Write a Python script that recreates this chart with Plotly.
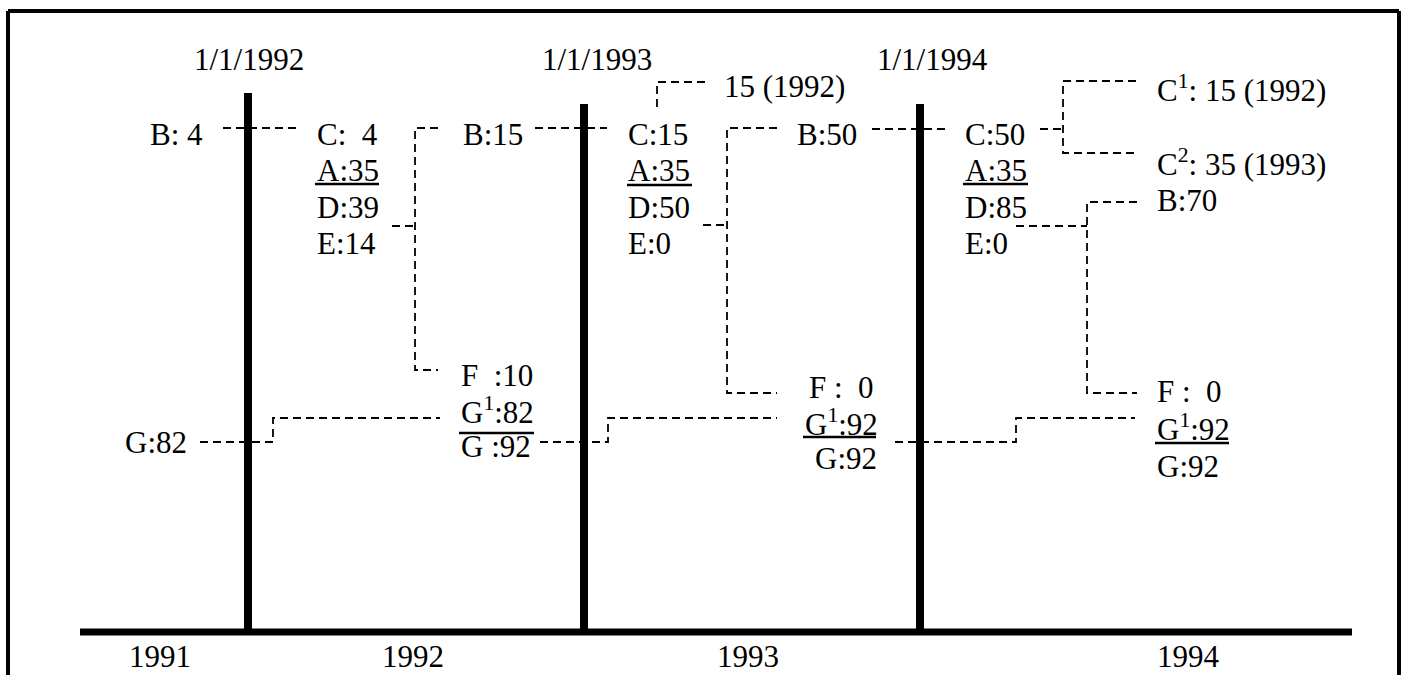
import plotly.graph_objects as go

# ---------------- data ----------------
years = ["1991", "1992", "1993", "1994"]
boundaries = ["1/1/1992", "1/1/1993", "1/1/1994"]
B_vals = [4, 15, 50, 70]
C_vals = [4, 15, 50]
A_vals = [35, 35, 35]
D_vals = [39, 50, 85]
E_vals = [14, 0, 0]
F_vals = [10, 0, 0]
G1_vals = [82, 92, 92]
G_vals = [82, 92, 92, 92]
C_split_vals = [15, 35]
C_split_years = ["1992", "1993"]
carry_val = 15
carry_year = "1992"

# ---------------- layout positions (pixels) ----------------
W, H = 1407, 675
FONT = "Liberation Serif"
FS = 31
NB = "\u00a0"

year_x = [160, 413, 748, 1188]
year_y = 656
bar_x = [248, 584, 920]
bar_top = [93, 104, 104]
axis_y = 632
axis_x = [80, 1352]
date_x = [249, 597, 932]
date_y = 59
col_x = [315, 626, 963]
row_y = [134, 170, 207, 243]
B_x = [148, 461, 795, 1155]
B_y = [134, 134, 134, 200]
F_x = [459, 807, 1155]
F_y = [375, 387, 391]
G1_x = [459, 803, 1155]
G1_y = [410, 422, 427]
G_x = [123, 459, 813, 1155]
G_y = [442, 446, 458, 466]
carry_pos = (722, 86)
split_x = 1155
split_y = [88, 162]
# underline rules (x0, x1, y)
A_rule = [(315, 379, 184), (627, 692, 185), (963, 1028, 184)]
G1_rule = [(459, 534, 433), (803, 876, 437), (1155, 1229, 443)]

connectors = [
    [(223, 128), (297, 128)],
    [(392, 226), (415, 226)],
    [(438, 128), (415, 128), (415, 370), (438, 370)],
    [(535, 128), (607, 128)],
    [(657, 107), (657, 82), (707, 82)],
    [(703, 225), (727, 225)],
    [(777, 128), (727, 128), (727, 393), (777, 393)],
    [(872, 129), (945, 129)],
    [(1040, 129), (1063, 129)],
    [(1136, 81), (1063, 81), (1063, 153), (1136, 153)],
    [(1016, 226), (1087, 226)],
    [(1137, 202), (1087, 202), (1087, 393), (1137, 393)],
    [(200, 442), (273, 442), (273, 418), (440, 418)],
    [(540, 442), (608, 442), (608, 418), (777, 418)],
    [(895, 442), (1016, 442), (1016, 418), (1135, 418)],
]

fig = go.Figure()

# thick time axis
fig.add_trace(go.Scatter(x=axis_x, y=[axis_y, axis_y], mode="lines",
                         line=dict(color="black", width=7), hoverinfo="skip"))
# year boundary bars
bx, by = [], []
for x, t in zip(bar_x, bar_top):
    bx += [x, x, None]
    by += [t, axis_y, None]
fig.add_trace(go.Scatter(x=bx, y=by, mode="lines",
                         line=dict(color="black", width=8), hoverinfo="skip"))
# dashed connectors
cx, cy = [], []
for poly in connectors:
    for (px, py) in poly:
        cx.append(px)
        cy.append(py)
    cx.append(None)
    cy.append(None)
fig.add_trace(go.Scatter(x=cx, y=cy, mode="lines",
                         line=dict(color="black", width=1.8, dash="8px,5px"),
                         hoverinfo="skip"))

ann = []


def label(x, y, text, anchor="left"):
    ann.append(dict(x=x, y=y, text=text, xref="x", yref="y", showarrow=False,
                    xanchor=anchor, yanchor="middle",
                    font=dict(family=FONT, size=FS, color="black")))


for i, d in enumerate(boundaries):
    label(date_x[i], date_y, d, "center")
for i, yr in enumerate(years):
    label(year_x[i], year_y, yr, "center")

# B labels
label(B_x[0], B_y[0], f"B:{NB}{B_vals[0]}")
for i in range(1, 4):
    label(B_x[i], B_y[i], f"B:{B_vals[i]}")

# C/A/D/E columns
for i in range(3):
    c = f"C:{NB}{NB}{C_vals[i]}" if C_vals[i] < 10 else f"C:{C_vals[i]}"
    label(col_x[i], row_y[0], c)
    label(col_x[i], row_y[1], f"A:{A_vals[i]}")
    label(col_x[i], row_y[2], f"D:{D_vals[i]}")
    label(col_x[i], row_y[3], f"E:{E_vals[i]}")

# carried amount and split
label(carry_pos[0], carry_pos[1], f"{carry_val} ({carry_year})")
for k in range(2):
    label(split_x, split_y[k],
          f"C<sup>{k + 1}</sup>: {C_split_vals[k]} ({C_split_years[k]})")

# F / G1 / G
for i in range(3):
    f = f"F{NB}{NB}:{F_vals[i]}" if F_vals[i] >= 10 else f"F :{NB}{NB}{F_vals[i]}"
    label(F_x[i], F_y[i], f)
    label(G1_x[i], G1_y[i], f"G<sup>1</sup>:{G1_vals[i]}")
label(G_x[0], G_y[0], f"G:{G_vals[0]}")
label(G_x[1], G_y[1], f"G :{G_vals[1]}")
label(G_x[2], G_y[2], f"G:{G_vals[2]}")
label(G_x[3], G_y[3], f"G:{G_vals[3]}")

# frame and underline rules
shapes = [
    dict(type="line", x0=8, x1=1399, y0=11, y1=11, xref="x", yref="y",
         line=dict(color="black", width=4)),
    dict(type="line", x0=8, x1=8, y0=11, y1=H, xref="x", yref="y",
         line=dict(color="black", width=4)),
    dict(type="line", x0=1399, x1=1399, y0=11, y1=H, xref="x", yref="y",
         line=dict(color="black", width=4)),
]
for (x0, x1, y) in A_rule + G1_rule:
    shapes.append(dict(type="line", x0=x0, x1=x1, y0=y, y1=y, xref="x", yref="y",
                       line=dict(color="black", width=2.5)))

fig.update_layout(
    width=W, height=H, margin=dict(l=0, r=0, t=0, b=0),
    paper_bgcolor="white", plot_bgcolor="white", showlegend=False,
    annotations=ann, shapes=shapes,
    xaxis=dict(range=[0, W], visible=False, fixedrange=True),
    yaxis=dict(range=[H, 0], visible=False, fixedrange=True),
)

fig.write_html("out.html", config={"displayModeBar": False},
               post_script="document.body.style.margin='0px';document.body.style.overflow='hidden';")
